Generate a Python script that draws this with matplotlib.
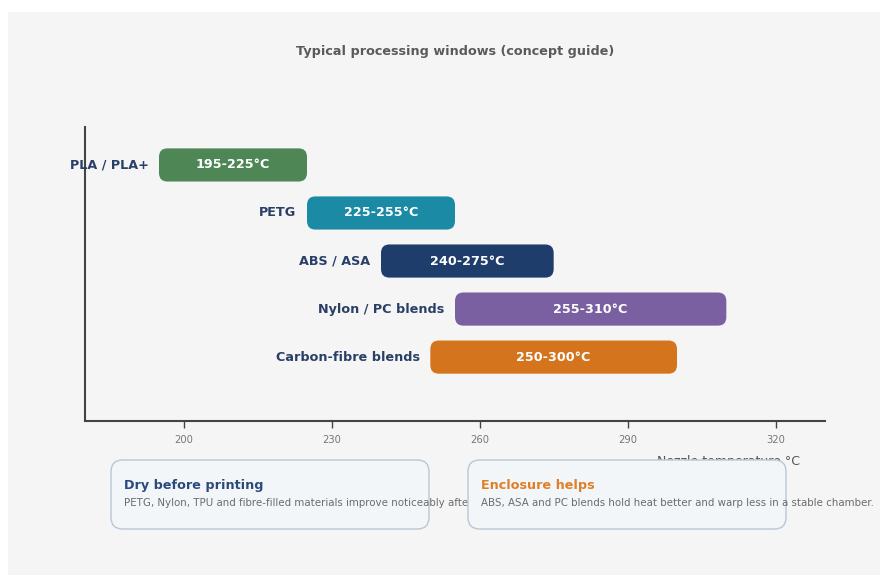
import matplotlib
matplotlib.use("Agg")
from matplotlib import pyplot as plt
from matplotlib.patches import FancyBboxPatch, Rectangle

materials = ["PLA / PLA+", "PETG", "ABS / ASA", "Nylon / PC blends", "Carbon-fibre blends"]
t_low = [195, 225, 240, 255, 250]
t_high = [225, 255, 275, 310, 300]
colors = ["#4f8656", "#1a8aa5", "#1f3d6b", "#7b60a1", "#d4741c"]
ticks = [200, 230, 260, 290, 320]

card_titles = ["Dry before printing", "Enclosure helps"]
card_texts = [
    "PETG, Nylon, TPU and fibre-filled materials improve noticeably after drying.",
    "ABS, ASA and PC blends hold heat better and warp less in a stable chamber.",
]
card_colors = ["#2b4a7c", "#e07f26"]

W, H = 887, 575
fig = plt.figure(figsize=(W / 100, H / 100), dpi=100)
fig.patch.set_facecolor("white")
fig.patches.append(Rectangle((8 / W, 0), (880 - 8) / W, 1 - 12 / H,
                             transform=fig.transFigure, facecolor="#f5f5f5",
                             edgecolor="none", zorder=-10))

# axes box in pixels: x 85..825, y 127..421 (from top)
ax = fig.add_axes([85 / W, 1 - 421 / H, (825 - 85) / W, (421 - 127) / H])
ax.set_facecolor("none")
ax.set_xlim(180, 330)
ax.set_ylim(5.33, -0.79)

bar_h = 0.69
for i, (lo, hi, c, name) in enumerate(zip(t_low, t_high, colors, materials)):
    p = FancyBboxPatch((lo, i - bar_h / 2), hi - lo, bar_h,
                       boxstyle="round,pad=0,rounding_size=1.7",
                       mutation_aspect=0.105, facecolor=c, edgecolor="none")
    ax.add_patch(p)
    ax.text((lo + hi) / 2, i, f"{lo}-{hi}°C", ha="center", va="center",
            color="white", fontsize=9.2, fontweight="bold")
    ax.annotate(name, (lo, i), xytext=(-7.5, 0), textcoords="offset points",
                ha="right", va="center", color="#2a3f66", fontsize=9.2,
                fontweight="bold", annotation_clip=False)

for s in ["top", "right"]:
    ax.spines[s].set_visible(False)
for s in ["left", "bottom"]:
    ax.spines[s].set_color("#444444")
    ax.spines[s].set_linewidth(1.5)
ax.set_yticks([])
ax.set_xticks(ticks)
ax.tick_params(axis="x", colors="#444444", labelcolor="#777777", labelsize=7.2,
               length=5, width=1, pad=5)

fig.text(455 / W, 1 - 51 / H, "Typical processing windows (concept guide)",
         ha="center", va="center", fontsize=9.2, fontweight="bold", color="#5a5a5a")
fig.text(800 / W, 1 - 462 / H, "Nozzle temperature °C", ha="right", va="center",
         fontsize=9, color="#555555", zorder=1)

card_x = [111, 468]
for k in range(2):
    x0 = card_x[k]
    card = FancyBboxPatch((x0 / W, 1 - 529 / H), 318 / W, 69 / H,
                          boxstyle="round,pad=0,rounding_size=0.013",
                          mutation_aspect=W / H, transform=fig.transFigure,
                          facecolor="#f3f6f9", edgecolor="#b9c7d6",
                          linewidth=1.0, zorder=2 + 2 * k)
    fig.patches.append(card)
    fig.text((x0 + 13) / W, 1 - 485 / H, card_titles[k], ha="left", va="center",
             fontsize=9.2, fontweight="bold", color=card_colors[k], zorder=3 + 2 * k)
    fig.text((x0 + 13) / W, 1 - 503 / H, card_texts[k], ha="left", va="center",
             fontsize=7.35, color="#6b6b6b", zorder=3 + 2 * k)

fig.savefig("out.png", dpi=100, facecolor=fig.get_facecolor())
